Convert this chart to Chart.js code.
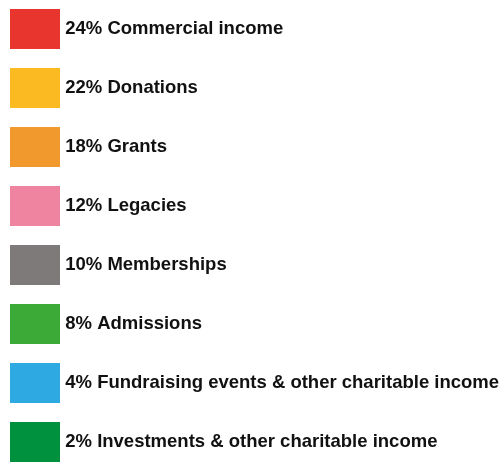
<!DOCTYPE html>
<html>
<head>
<meta charset="utf-8">
<script src="https://cdn.jsdelivr.net/npm/chart.js@4.4.1/dist/chart.umd.min.js"></script>
<style>
    html, body { margin: 0; padding: 0; background: #fff; overflow: hidden; width: 503px; height: 462px; }
    .wrap { position: absolute; left: -13px; top: -14px; width: 516px; height: 520px; }
</style>
</head>
<body>
<div class="wrap"><canvas id="incomeChart"></canvas></div>
<script>
    // Income sources (percent of total)
    const categories = [
        'Commercial income',
        'Donations',
        'Grants',
        'Legacies',
        'Memberships',
        'Admissions',
        'Fundraising events & other charitable income',
        'Investments & other charitable income'
    ];
    const shares = [24, 22, 18, 12, 10, 8, 4, 2];
    const colors = [
        '#E8352E', // red
        '#FBBA22', // yellow
        '#F2992E', // orange
        '#EE84A0', // pink
        '#7F7A7A', // grey
        '#3CAA36', // green
        '#2EA9E1', // blue
        '#00913F'  // dark green
    ];

    const fontSize = 18.5;
    const edge = 8; // box border in the fill colour, lets the text sit closer to the box

    const ctx = document.getElementById('incomeChart').getContext('2d');
    new Chart(ctx, {
        type: 'doughnut',
        data: {
            labels: categories.map((c, i) => `${shares[i]}% ${c}`),
            datasets: [{
                data: shares,
                backgroundColor: colors,
                borderWidth: 0
            }]
        },
        options: {
            responsive: true,
            maintainAspectRatio: false,
            animation: false,
            layout: { padding: 0 },
            plugins: {
                tooltip: { enabled: false },
                legend: {
                    position: 'left',
                    align: 'start',
                    maxWidth: 516,
                    labels: {
                        boxWidth: 50 - edge,
                        boxHeight: 40 - edge,
                        padding: 59 - (40 - edge),
                        color: '#111111',
                        font: { family: "'Liberation Sans', Arial, sans-serif", size: fontSize, weight: 'bold' },
                        generateLabels: function(chart) {
                            return chart.data.labels.map((text, i) => ({
                                text: text,
                                fillStyle: colors[i],
                                strokeStyle: colors[i],
                                lineWidth: edge,
                                fontColor: '#111111',
                                hidden: false,
                                index: i
                            }));
                        }
                    }
                }
            }
        }
    });
</script>
</body>
</html>
